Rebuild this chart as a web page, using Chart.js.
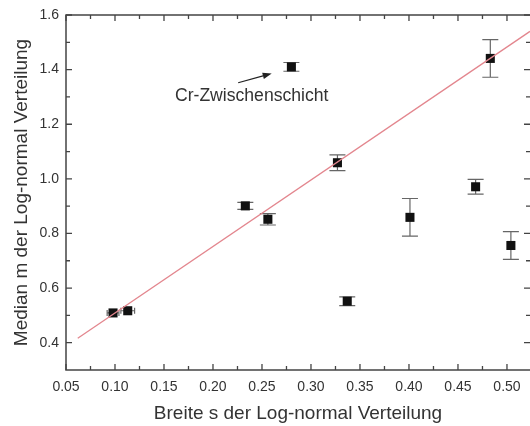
<!DOCTYPE html>
<html>
<head>
<meta charset="utf-8">
<script src="https://cdn.jsdelivr.net/npm/chart.js@4"></script>
<style>
  html, body { margin: 0; padding: 0; background: #fff; }
  #wrap { width: 530px; height: 426px; }
</style>
</head>
<body>
<div id="wrap"><canvas id="c" width="530" height="426"></canvas></div>
<script>
// Breite s und Median m der Log-normal Verteilung, mit Fehlern
const breiteS   = [0.098, 0.113, 0.233, 0.256, 0.280, 0.327, 0.337, 0.401, 0.468, 0.483, 0.504];
const medianM   = [0.509, 0.517, 0.901, 0.852, 1.410, 1.059, 0.552, 0.859, 0.971, 1.441, 0.756];
const fehlerM   = [0.000, 0.000, 0.013, 0.021, 0.016, 0.029, 0.016, 0.069, 0.027, 0.069, 0.051];
const fehlerS   = [0.006, 0.007, 0.000, 0.000, 0.000, 0.000, 0.000, 0.000, 0.000, 0.000, 0.000];

// lineare Anpassung
const fitS = [0.062, 0.5235];
const fitM = [0.416, 1.540];

const xTickValues = [0.05, 0.10, 0.15, 0.20, 0.25, 0.30, 0.35, 0.40, 0.45, 0.50];
const yTickValues = [0.4, 0.6, 0.8, 1.0, 1.2, 1.4, 1.6];

const noteText = 'Cr-Zwischenschicht';
const notePos  = [0.2395, 1.303];
const arrowFrom = [0.2257, 1.352];
const arrowTo   = [0.2599, 1.386];

const FONT = "'Liberation Sans', Arial, Helvetica, sans-serif";
const TEXT = '#333';
const AXIS = '#444';

// Fehlerbalken unter den Punkten
const errorBars = {
  id: 'errorBars',
  beforeDatasetsDraw(chart) {
    const { ctx, scales: { x, y } } = chart;
    ctx.save();
    ctx.strokeStyle = '#666';
    ctx.lineWidth = 1.2;
    const cap = 8;
    breiteS.forEach((s, i) => {
      const px = x.getPixelForValue(s);
      const py = y.getPixelForValue(medianM[i]);
      if (fehlerM[i] > 0) {
        const t = y.getPixelForValue(medianM[i] + fehlerM[i]);
        const b = y.getPixelForValue(medianM[i] - fehlerM[i]);
        ctx.beginPath();
        ctx.moveTo(px, t); ctx.lineTo(px, b);
        ctx.moveTo(px - cap, t); ctx.lineTo(px + cap, t);
        ctx.moveTo(px - cap, b); ctx.lineTo(px + cap, b);
        ctx.stroke();
      }
      if (fehlerS[i] > 0) {
        const l = x.getPixelForValue(s - fehlerS[i]);
        const r = x.getPixelForValue(s + fehlerS[i]);
        ctx.beginPath();
        ctx.moveTo(l, py); ctx.lineTo(r, py);
        ctx.moveTo(l, py - 3); ctx.lineTo(l, py + 3);
        ctx.moveTo(r, py - 3); ctx.lineTo(r, py + 3);
        ctx.stroke();
      }
    });
    ctx.restore();
  }
};

// Achsenlinien links, oben, unten und nach innen gerichtete Striche auf allen Seiten
const frameTicks = {
  id: 'frameTicks',
  afterDraw(chart) {
    const { ctx, chartArea: a, scales: { x, y } } = chart;
    ctx.save();
    ctx.strokeStyle = AXIS;
    ctx.lineWidth = 1.5;
    ctx.beginPath();
    ctx.moveTo(a.right, a.top); ctx.lineTo(a.left, a.top);
    ctx.lineTo(a.left, a.bottom); ctx.lineTo(a.right, a.bottom);
    ctx.stroke();
    const major = 6, minor = 4;
    const xStep = xTickValues[1] - xTickValues[0];
    const yStep = yTickValues[1] - yTickValues[0];
    ctx.lineWidth = 1.3;
    ctx.beginPath();
    for (let v = xTickValues[0]; v <= x.max + 1e-9; v += xStep / 2) {
      const px = x.getPixelForValue(v);
      const isMajor = Math.abs(((v - xTickValues[0]) / xStep) - Math.round((v - xTickValues[0]) / xStep)) < 1e-6;
      const len = isMajor ? major : minor;
      ctx.moveTo(px, a.bottom); ctx.lineTo(px, a.bottom - len);
      ctx.moveTo(px, a.top); ctx.lineTo(px, a.top + len);
    }
    for (let v = yTickValues[0] - yStep / 2; v <= y.max + 1e-9; v += yStep / 2) {
      if (v <= y.min + 1e-9) continue;
      const py = y.getPixelForValue(v);
      const isMajor = Math.abs(((v - yTickValues[0]) / yStep) - Math.round((v - yTickValues[0]) / yStep)) < 1e-6;
      const len = isMajor ? major : minor;
      ctx.moveTo(a.left, py); ctx.lineTo(a.left + len, py);
      ctx.moveTo(a.right, py); ctx.lineTo(a.right - len, py);
    }
    ctx.stroke();
    ctx.restore();
  }
};

// Beschriftung mit Pfeil
const note = {
  id: 'note',
  afterDatasetsDraw(chart) {
    const { ctx, scales: { x, y } } = chart;
    ctx.save();
    ctx.fillStyle = TEXT;
    ctx.font = '17.6px ' + FONT;
    ctx.textAlign = 'center';
    ctx.textBaseline = 'middle';
    ctx.fillText(noteText, x.getPixelForValue(notePos[0]), y.getPixelForValue(notePos[1]));
    const x0 = x.getPixelForValue(arrowFrom[0]), y0 = y.getPixelForValue(arrowFrom[1]);
    const x1 = x.getPixelForValue(arrowTo[0]),   y1 = y.getPixelForValue(arrowTo[1]);
    const ang = Math.atan2(y1 - y0, x1 - x0);
    const hl = 9, hw = 3.2;
    ctx.strokeStyle = '#222';
    ctx.lineWidth = 1.2;
    ctx.beginPath();
    ctx.moveTo(x0, y0);
    ctx.lineTo(x1 - hl * Math.cos(ang), y1 - hl * Math.sin(ang));
    ctx.stroke();
    ctx.fillStyle = '#222';
    ctx.beginPath();
    ctx.moveTo(x1, y1);
    ctx.lineTo(x1 - hl * Math.cos(ang) + hw * Math.sin(ang), y1 - hl * Math.sin(ang) - hw * Math.cos(ang));
    ctx.lineTo(x1 - hl * Math.cos(ang) - hw * Math.sin(ang), y1 - hl * Math.sin(ang) + hw * Math.cos(ang));
    ctx.closePath();
    ctx.fill();
    ctx.restore();
  }
};

const whiteBg = {
  id: 'whiteBg',
  beforeDraw(chart) {
    const { ctx, width, height } = chart;
    ctx.save();
    ctx.fillStyle = '#fff';
    ctx.fillRect(0, 0, width, height);
    ctx.restore();
  }
};

new Chart(document.getElementById('c'), {
  type: 'scatter',
  data: {
    datasets: [
      {
        label: 'Anpassung',
        type: 'line',
        data: fitS.map((s, i) => ({ x: s, y: fitM[i] })),
        borderColor: '#e3868e',
        borderWidth: 1.3,
        pointRadius: 0,
        fill: false,
        order: 0
      },
      {
        label: 'Messwerte',
        data: breiteS.map((s, i) => ({ x: s, y: medianM[i] })),
        pointStyle: 'rect',
        pointRadius: 6.4,
        pointHoverRadius: 6.4,
        backgroundColor: '#111',
        borderColor: '#111',
        borderWidth: 0,
        order: 1
      }
    ]
  },
  options: {
    responsive: false,
    animation: false,
    devicePixelRatio: 1,
    layout: { autoPadding: false, padding: { left: 0, right: 0, top: 15, bottom: 0 } },
    plugins: {
      legend: { display: false },
      tooltip: { enabled: false }
    },
    scales: {
      x: {
        type: 'linear',
        min: 0.05,
        max: 0.5235,
        grid: { display: false, drawTicks: false },
        border: { display: false },
        afterBuildTicks(scale) { scale.ticks = xTickValues.map(v => ({ value: v })); },
        afterFit(scale) {
          scale.height = 56;
          scale.paddingLeft = 0;
          scale.paddingRight = 0;
        },
        ticks: {
          padding: 9,
          color: TEXT,
          font: { family: FONT, size: 14 },
          maxRotation: 0,
          callback: v => Number(v).toFixed(2)
        },
        title: {
          display: true,
          text: 'Breite s der Log-normal Verteilung',
          color: TEXT,
          font: { family: FONT, size: 19 },
          padding: { top: 0, bottom: 1 }
        }
      },
      y: {
        type: 'linear',
        min: 0.3,
        max: 1.6,
        grid: { display: false, drawTicks: false },
        border: { display: false },
        afterBuildTicks(scale) { scale.ticks = yTickValues.map(v => ({ value: v })); },
        afterFit(scale) {
          scale.width = 66;
          scale.paddingTop = 0;
          scale.paddingBottom = 0;
        },
        ticks: {
          padding: 7,
          color: TEXT,
          font: { family: FONT, size: 14 },
          callback: v => Number(v).toFixed(1)
        },
        title: {
          display: true,
          text: 'Median m der Log-normal Verteilung',
          color: TEXT,
          font: { family: FONT, size: 19 },
          padding: { top: 10, bottom: 0 }
        }
      }
    }
  },
  plugins: [whiteBg, errorBars, frameTicks, note]
});
</script>
</body>
</html>
